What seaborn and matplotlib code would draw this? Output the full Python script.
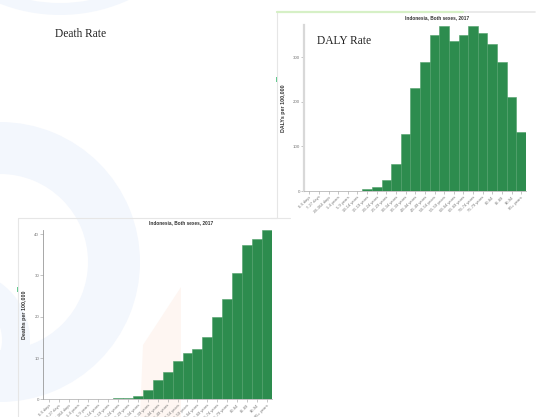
import matplotlib
matplotlib.use("Agg")
import matplotlib.pyplot as plt
import matplotlib.patches as mpatches
import seaborn as sns

sns.set_theme(style="white")
plt.rcParams['font.family'] = ['Liberation Sans', 'DejaVu Sans']

# GBD age groups, Indonesia, both sexes, 2017
age_groups = ['0-6 days', '7-27 days', '28-364 days', '1-4 years', '5-9 years',
              '10-14 years', '15-19 years', '20-24 years', '25-29 years', '30-34 years',
              '35-39 years', '40-44 years', '45-49 years', '50-54 years', '55-59 years',
              '60-64 years', '65-69 years', '70-74 years', '75-79 years', '80-84',
              '85-89', '90-94', '95+ years']
death_rate = [0, 0, 0, 0, 0, 0.02, 0.1, 0.2, 0.35, 0.9, 2.25, 4.7, 6.7, 9.3, 11.3,
              12.1, 15.2, 20.0, 24.3, 30.7, 37.3, 38.8, 41.0]
daly_rate = [0, 0, 0, 0, 0, 0.5, 3.8, 8.3, 24.6, 59.8, 127.6, 230.6, 288.8, 348.6, 368.7,
             336.5, 350.0, 370.0, 353.0, 329.8, 288.8, 209.8, 131.4]
title = "Indonesia, Both sexes, 2017"

green = "#2d8c4e"
W, H = 542, 417
fig = plt.figure(figsize=(W / 100, H / 100), dpi=100)

# slide background with faint decorations, in pixel coordinates
bg = fig.add_axes([0, 0, 1, 1], zorder=0)
bg.set_xlim(0, W)
bg.set_ylim(H, 0)
bg.axis("off")
blue = "#f3f7fd"
bg.add_patch(mpatches.Wedge((0, 262), 140, 0, 360, width=52, color=blue, lw=0))
bg.add_patch(mpatches.Wedge((-40, 340), 70, 0, 360, width=28, color=blue, lw=0))
bg.add_patch(mpatches.Wedge((60, -150), 165, 0, 360, width=12, color=blue, lw=0))
bg.add_patch(mpatches.Polygon([(143, 345), (181, 287), (181, 417), (140, 417)],
                              color="#fef6f2", lw=0))
# panel frames of the two screenshots
grey = "#e6e6e6"
bg.plot([277, 277], [12, 218], color=grey, lw=0.8)
bg.plot([277, 535], [12, 12], color=grey, lw=1.2)
bg.plot([277, 463], [11.5, 11.5], color="#d6f0c6", lw=1.6)
bg.plot([18, 18], [218, 417], color=grey, lw=0.8)
bg.plot([18, 277], [218, 218], color=grey, lw=0.8)
bg.plot([270, 290], [218, 218], color=grey, lw=0.8)
bg.add_patch(mpatches.Rectangle((275.5, 77), 1.8, 5, color="#5cc98a", lw=0))
bg.add_patch(mpatches.Rectangle((16.5, 287), 1.8, 5, color="#5cc98a", lw=0))

fig.text(55 / W, 1 - 34 / H, "Death Rate", family="Liberation Serif", fontsize=8.3,
         color="#222222", va="center", ha="left")


def bar_chart(rect, values, ymax, yticks, ylabel, spine_col, spine_w):
    ax = fig.add_axes(rect, zorder=2)
    ax.patch.set_alpha(0)
    sns.barplot(x=age_groups, y=values, color=green, saturation=1, width=1,
                edgecolor="#4fa06a", linewidth=0.4, ax=ax)
    ax.set_xlim(-0.55, len(age_groups) - 0.5)
    ax.set_ylim(0, ymax)
    ax.set_yticks(yticks)
    ax.set_yticklabels([str(t) for t in yticks], fontsize=3.2, color="#777777")
    ax.set_xticks(range(len(age_groups)))
    ax.set_xticklabels(age_groups, rotation=45, ha="right", rotation_mode="anchor",
                       fontsize=2.9, color="#777777")
    ax.tick_params(axis="both", length=2, width=0.4, color="#999999", pad=1,
                   bottom=True, left=True)
    ax.set_ylabel(ylabel, fontsize=3.8, fontweight="bold", color="#333333", labelpad=5)
    ax.set_xlabel("")
    for s in ["top", "right"]:
        ax.spines[s].set_visible(False)
    ax.spines["left"].set_color(spine_col)
    ax.spines["left"].set_linewidth(spine_w)
    ax.spines["bottom"].set_color("#aaaaaa")
    ax.spines["bottom"].set_linewidth(0.5)
    return ax


# DALY chart (upper right)
bar_chart([304 / W, 1 - 191 / H, 222 / W, 166 / H], daly_rate, 372,
          [0, 100, 200, 300], "DALYs per 100,000", "#d8d8d8", 1.6)
fig.text(437 / W, 1 - 18 / H, title, fontsize=3.4, fontweight="bold",
         color="#333333", ha="center", va="center")
fig.text(317 / W, 1 - 41 / H, "DALY Rate", family="Liberation Serif", fontsize=8.3,
         color="#222222", va="center", ha="left", zorder=5)

# Death chart (lower left)
bar_chart([43.3 / W, 1 - 399.3 / H, 228.4 / W, 169.3 / H], death_rate, 41,
          [0, 10, 20, 30, 40], "Deaths per 100,000", "#999999", 0.6)
fig.text(181 / W, 1 - 223 / H, title, fontsize=3.4, fontweight="bold",
         color="#333333", ha="center", va="center")

fig.savefig("out.png", dpi=100)
